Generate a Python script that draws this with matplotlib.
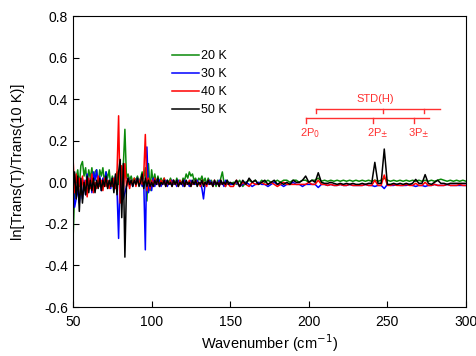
import numpy as np
import matplotlib
matplotlib.use('Agg')
import matplotlib.pyplot as plt

plt.rcParams['font.family'] = ['Liberation Sans', 'DejaVu Sans']
plt.rcParams['axes.unicode_minus'] = False

# wavenumber grid: 1 cm-1 steps up to 150, then 2 cm-1 steps
wn_lo = np.arange(50, 151)
wn_hi = np.arange(152, 301, 2)
wavenumber = np.concatenate([wn_lo, wn_hi])

# 20 K
green_lo = [-0.28, -0.05, 0.02, 0.06, -0.02, 0.08, 0.10, 0.03, 0.07, -0.01,
            0.06, 0.02, 0.07, 0.00, 0.05, 0.06, -0.01, 0.06, 0.03, 0.07,
            0.00, 0.05, 0.02, 0.06, -0.02, 0.03, 0.00, 0.02, 0.05, -0.01,
            0.04, 0.00, 0.08, 0.255, 0.02, 0.04, 0.01, 0.03, 0.00, 0.02,
            0.01, 0.03, 0.00, 0.02, 0.05, 0.02, 0.07, -0.09, 0.09, -0.04,
            0.06, 0.00, 0.04, -0.01, 0.03, 0.00, 0.02, 0.00, 0.02, -0.01,
            0.01, 0.00, 0.02, 0.00, 0.01, -0.01, 0.02, 0.00, 0.01, -0.01,
            0.02, 0.01, 0.04, 0.02, 0.05, 0.03, 0.04, 0.01, 0.02, 0.00,
            0.02, 0.01, 0.03, 0.00, 0.02, -0.01, 0.02, 0.00, 0.01, -0.01,
            0.00, -0.02, 0.01, -0.01, 0.02, 0.05, 0.00, -0.02, 0.01, 0.00,
            -0.01]
green_hi = [0.00, -0.01, 0.01, -0.02, 0.00, 0.01, 0.00, 0.01, -0.01, 0.01,
            0.00, 0.01, 0.00, 0.00, 0.01, 0.00, 0.01, 0.01, 0.00, 0.01,
            0.01, 0.00, 0.01, 0.01, 0.00, 0.01, 0.01, 0.02, 0.005, 0.01,
            0.005, 0.01, 0.005, 0.01, 0.005, 0.01, 0.005, 0.01, 0.005, 0.01,
            0.005, 0.01, 0.005, 0.01, 0.005, 0.01, 0.005, 0.01, 0.02, 0.01,
            0.005, 0.01, 0.005, 0.01, 0.005, 0.01, 0.005, 0.01, 0.005, 0.01,
            0.005, 0.01, 0.005, 0.01, 0.005, 0.01, 0.015, 0.01, 0.005, 0.01,
            0.005, 0.01, 0.005, 0.01, 0.005]

# 30 K
blue_lo = [0.03, -0.12, -0.08, -0.03, -0.10, -0.02, -0.08, 0.01, -0.06, 0.04,
           -0.03, 0.02, -0.05, 0.05, 0.01, 0.06, -0.02, 0.03, -0.04, 0.02,
           -0.01, 0.05, -0.02, 0.00, -0.03, 0.02, -0.01, 0.03, -0.04, -0.27,
           0.06, -0.03, -0.08, -0.05, -0.02, 0.02, -0.01, 0.01, -0.02, 0.01,
           0.00, 0.02, -0.01, 0.01, -0.02, 0.00, -0.325, 0.17, -0.05, 0.00,
           -0.04, 0.02, -0.02, 0.01, -0.01, 0.01, -0.02, 0.00, -0.01, 0.01,
           -0.02, 0.00, -0.01, 0.01, -0.01, 0.00, -0.02, 0.01, -0.01, 0.00,
           -0.02, 0.01, -0.01, 0.00, -0.02, 0.01, -0.01, 0.00, -0.01, 0.01,
           -0.01, 0.00, -0.03, -0.08, -0.01, 0.00, -0.01, 0.01, -0.01, 0.00,
           -0.01, 0.00, -0.01, 0.01, -0.01, 0.00, -0.02, 0.01, -0.01, 0.00,
           -0.01]
blue_hi = [-0.01, 0.00, -0.02, -0.01, 0.00, -0.01, -0.02, -0.01, 0.00, -0.01,
           -0.01, -0.02, -0.01, 0.00, -0.01, -0.01, -0.02, -0.01, -0.01, 0.00,
           -0.01, -0.01, -0.02, -0.01, -0.01, -0.01, -0.01, -0.025, -0.01, -0.01,
           -0.015, -0.01, -0.015, -0.015, -0.01, -0.015, -0.015, -0.01, -0.015, -0.015,
           -0.015, -0.015, -0.01, -0.015, -0.015, -0.02, -0.015, -0.015, -0.03, -0.01,
           -0.015, -0.015, -0.01, -0.015, -0.015, -0.015, -0.01, -0.015, -0.02, -0.015,
           -0.015, -0.02, -0.015, -0.015, -0.01, -0.015, -0.015, -0.015, -0.01, -0.015,
           -0.015, -0.015, -0.015, -0.015, -0.015]

# 40 K
red_lo = [0.12, -0.05, 0.04, -0.03, 0.02, -0.06, 0.03, -0.04, 0.01, -0.07,
          0.02, -0.03, 0.04, -0.05, 0.00, -0.03, 0.03, -0.02, 0.01, -0.04,
          0.02, -0.02, 0.01, -0.03, 0.00, -0.02, 0.02, -0.03, 0.05, 0.32,
          -0.10, 0.08, -0.05, 0.09, -0.02, 0.01, -0.03, 0.01, -0.01, 0.02,
          -0.02, 0.01, -0.01, 0.02, -0.01, 0.04, 0.23, -0.04, 0.02, -0.03,
          0.01, -0.02, 0.02, -0.01, 0.01, -0.02, 0.01, -0.01, 0.02, -0.02,
          0.00, -0.01, 0.01, -0.02, 0.01, -0.01, 0.00, -0.02, 0.01, -0.01,
          0.01, -0.02, 0.00, -0.01, 0.01, -0.02, 0.00, -0.01, 0.01, -0.01,
          0.00, -0.02, 0.01, -0.01, 0.00, -0.02, 0.01, -0.01, 0.00, -0.02,
          0.01, -0.01, 0.00, -0.02, 0.01, -0.01, 0.00, -0.02, 0.00, -0.01,
          -0.02]
red_hi = [-0.02, 0.01, -0.02, 0.00, -0.01, -0.02, 0.00, -0.01, -0.01, 0.00,
          -0.01, -0.01, 0.00, -0.01, -0.02, -0.01, 0.00, -0.01, -0.01, -0.01,
          -0.01, -0.01, -0.01, -0.01, 0.00, -0.01, -0.01, 0.01, -0.01, -0.01,
          -0.015, -0.01, -0.015, -0.015, -0.01, -0.015, -0.015, -0.01, -0.015, -0.015,
          -0.015, -0.015, -0.01, -0.015, -0.015, 0.01, -0.015, -0.015, 0.035, -0.015,
          -0.015, -0.01, -0.015, -0.015, -0.015, -0.01, -0.015, -0.015, -0.005, -0.015,
          -0.015, 0.00, -0.015, -0.015, -0.01, -0.015, -0.015, -0.015, -0.01, -0.015,
          -0.015, -0.015, -0.01, -0.015, -0.015]

# 50 K
black_lo = [-0.03, 0.05, -0.08, 0.03, -0.14, 0.02, -0.10, 0.00, -0.06, 0.03,
            -0.05, 0.01, -0.04, 0.02, -0.05, 0.01, -0.03, 0.02, -0.04, 0.01,
            -0.02, 0.03, -0.03, 0.01, -0.02, 0.02, -0.05, 0.04, -0.06, 0.05,
            0.11, -0.17, 0.09, -0.36, -0.02, 0.02, -0.01, 0.01, -0.02, 0.01,
            -0.01, 0.02, -0.02, 0.00, 0.04, -0.03, 0.02, -0.02, 0.01, -0.02,
            0.00, -0.02, 0.01, -0.01, 0.02, -0.02, 0.00, -0.01, 0.01, -0.02,
            0.01, -0.01, 0.00, -0.02, 0.01, -0.01, 0.01, -0.02, 0.00, -0.01,
            0.01, -0.02, 0.01, -0.01, 0.00, -0.02, 0.01, -0.01, 0.01, -0.02,
            0.00, -0.01, 0.01, -0.02, 0.00, -0.01, 0.01, -0.01, 0.00, -0.02,
            0.01, -0.01, 0.00, -0.02, 0.01, -0.01, 0.00, -0.01, 0.01, -0.01,
            0.00]
black_hi = [-0.01, 0.01, -0.02, 0.01, -0.01, 0.02, 0.00, 0.01, -0.01, 0.00,
            0.01, -0.01, 0.00, 0.01, -0.01, 0.00, -0.01, 0.00, -0.01, 0.01,
            0.00, 0.00, 0.01, 0.03, 0.00, 0.01, 0.00, 0.046, 0.00, -0.005,
            -0.005, 0.00, -0.005, -0.01, -0.005, -0.01, -0.005, -0.01, -0.005, -0.01,
            -0.01, -0.005, -0.01, -0.005, -0.005, 0.096, -0.005, -0.005, 0.16, -0.01,
            -0.01, -0.005, -0.01, -0.005, -0.01, -0.005, -0.01, -0.005, 0.014, -0.005,
            -0.005, 0.037, -0.005, -0.01, 0.00, 0.01, -0.005, -0.005, -0.01, -0.005,
            -0.005, -0.005, -0.005, -0.005, -0.005]

series = [('20 K', green_lo + green_hi, '#0a8a0a'),
          ('30 K', blue_lo + blue_hi, '#0000ff'),
          ('40 K', red_lo + red_hi, '#ff0000'),
          ('50 K', black_lo + black_hi, '#000000')]

# STD(H) transition markers
lower_pos = [198.0, 241.0, 267.0]
lower_labels = ['2P$_0$', '2P$_{\\pm}$', '3P$_{\\pm}$']
upper_pos = [204.4, 247.4, 273.3]

fig = plt.figure(figsize=(4.76, 3.56), dpi=100)
ax = fig.add_axes([0.1534, 0.1376, 0.8256, 0.8174])

for label, vals, col in series:
    ax.plot(wavenumber, vals, color=col, lw=1.1, label=label)

red = '#ff3030'
ax.plot([lower_pos[0], 276.5], [0.311, 0.311], color=red, lw=1)
for p in lower_pos:
    ax.plot([p, p], [0.311, 0.284], color=red, lw=1)
ax.plot([upper_pos[0], 283.5], [0.353, 0.353], color=red, lw=1)
for p in upper_pos:
    ax.plot([p, p], [0.353, 0.332], color=red, lw=1)
ax.text(242, 0.375, 'STD(H)', color=red, fontsize=8, ha='center', va='bottom')
for p, t in zip(lower_pos, lower_labels):
    ax.text(p + 3, 0.272, t, color=red, fontsize=8, ha='center', va='top')

ax.set_xlim(50, 300)
ax.set_ylim(-0.6, 0.8)
ax.set_xticks([50, 100, 150, 200, 250, 300])
ax.set_yticks(np.arange(-0.6, 0.81, 0.2))
ax.yaxis.set_major_formatter(plt.FormatStrFormatter('%.1f'))
ax.tick_params(direction='in', length=4, labelsize=10, top=False, right=False)
ax.tick_params(axis='x', pad=6)
ax.set_xlabel('Wavenumber (cm$^{-1}$)', fontsize=10.5, labelpad=2)
ax.set_ylabel('ln[Trans(T)/Trans(10 K)]', fontsize=10.5, labelpad=14)

ax.legend(loc='upper left', bbox_to_anchor=(0.237, 0.905), frameon=False,
          fontsize=9, handlelength=2.1, handletextpad=0.2, labelspacing=0.48,
          borderpad=0)

fig.savefig('out.png', dpi=100)
